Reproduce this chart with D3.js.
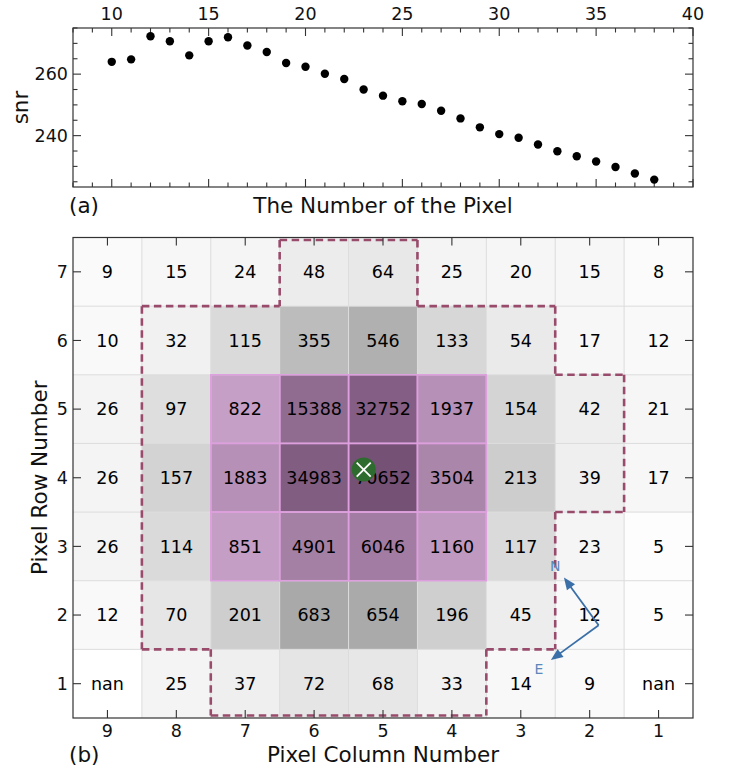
<!DOCTYPE html>
<html>
<head>
<meta charset="utf-8">
<script src="https://cdn.jsdelivr.net/npm/d3@7"></script>
<style>
  html, body { margin: 0; padding: 0; background: #fff; }
  svg { display: block; font-family: "DejaVu Sans", sans-serif; }
</style>
</head>
<body>
<svg id="chart" width="729" height="773"></svg>
<script>
// ---------- Panel (a) data ----------
const pixelNumbers = [10,11,12,13,14,15,16,17,18,19,20,21,22,23,24,25,26,27,28,29,30,31,32,33,34,35,36,37,38];
const snrValues = [264.0,264.8,272.3,270.7,266.1,270.7,272.0,269.3,267.2,263.6,262.4,260.1,258.4,255.0,253.0,251.2,250.3,248.1,245.6,242.7,240.5,239.3,237.1,234.9,233.3,231.6,229.8,227.7,225.7];
const snrXTicks = [10,15,20,25,30,35,40];
const snrYTicks = [240,260];

// ---------- Panel (b) data ----------
const columnNumbers = [9,8,7,6,5,4,3,2,1];
const rowNumbers = [7,6,5,4,3,2,1];
const row7 = [9, 15, 24, 48, 64, 25, 20, 15, 8];
const row6 = [10, 32, 115, 355, 546, 133, 54, 17, 12];
const row5 = [26, 97, 822, 15388, 32752, 1937, 154, 42, 21];
const row4 = [26, 157, 1883, 34983, 70652, 3504, 213, 39, 17];
const row3 = [26, 114, 851, 4901, 6046, 1160, 117, 23, 5];
const row2 = [12, 70, 201, 683, 654, 196, 45, 12, 5];
const row1 = [null, 25, 37, 72, 68, 33, 14, 9, null];
const pixelValues = [row7, row6, row5, row4, row3, row2, row1];

// aperture (dashed outline) mask
const apertureMask = [
  [0,0,0,1,1,0,0,0,0],
  [0,1,1,1,1,1,1,0,0],
  [0,1,1,1,1,1,1,1,0],
  [0,1,1,1,1,1,1,1,0],
  [0,1,1,1,1,1,1,0,0],
  [0,1,1,1,1,1,1,0,0],
  [0,0,1,1,1,1,0,0,0]
];
// highlighted (purple) pixels
const highlightMask = [
  [0,0,0,0,0,0,0,0,0],
  [0,0,0,0,0,0,0,0,0],
  [0,0,1,1,1,1,0,0,0],
  [0,0,1,1,1,1,0,0,0],
  [0,0,1,1,1,1,0,0,0],
  [0,0,0,0,0,0,0,0,0],
  [0,0,0,0,0,0,0,0,0]
];
const targetPosition = {column: 5.28, row: 4.12};
const compassOrigin = {column: 1.87, row: 1.85};
const compassRotationDeg = 36;

const svg = d3.select("#chart");
const FONT = 17.5, TITLE = 21.5;

// ================= Panel (a) =================
const A = {l: 73, r: 693, t: 28, b: 187};
const xA = d3.scaleLinear().domain([8, 40]).range([A.l, A.r]);
const yA = d3.scaleLinear().domain([223.3, 275]).range([A.b, A.t]);
const gA = svg.append("g");

const minorX = d3.range(8, 41, 1).filter(v => v % 5 !== 0);
const minorY = d3.range(225, 276, 5).filter(v => v % 20 !== 0);
const majorYAll = [240, 260];

// ticks (inward) on all sides
function tickLines(g, vals, scale, orient, len) {
  vals.forEach(v => {
    const p = scale(v);
    let x1,y1,x2,y2;
    if (orient === "top") { x1 = x2 = p; y1 = A.t; y2 = A.t + len; }
    if (orient === "bottom") { x1 = x2 = p; y1 = A.b; y2 = A.b - len; }
    if (orient === "left") { y1 = y2 = p; x1 = A.l; x2 = A.l + len; }
    if (orient === "right") { y1 = y2 = p; x1 = A.r; x2 = A.r - len; }
    g.append("line").attr("x1",x1).attr("x2",x2).attr("y1",y1).attr("y2",y2)
      .attr("stroke","#333").attr("stroke-width",1.1);
  });
}
tickLines(gA, snrXTicks, xA, "top", 8);
tickLines(gA, snrXTicks, xA, "bottom", 8);
tickLines(gA, minorX, xA, "top", 4.5);
tickLines(gA, minorX, xA, "bottom", 4.5);
tickLines(gA, majorYAll, yA, "left", 8);
tickLines(gA, majorYAll, yA, "right", 8);
tickLines(gA, minorY, yA, "left", 4.5);
tickLines(gA, minorY, yA, "right", 4.5);

gA.selectAll(".xl").data(snrXTicks).enter().append("text")
  .attr("x", d => xA(d)).attr("y", 20).attr("text-anchor","middle")
  .attr("font-size", FONT).attr("fill","#111").text(d => d);
gA.selectAll(".yl").data(snrYTicks).enter().append("text")
  .attr("x", 68).attr("y", d => yA(d)).attr("dy","0.36em").attr("text-anchor","end")
  .attr("font-size", FONT).attr("fill","#111").text(d => d);

gA.selectAll(".dot").data(pixelNumbers).enter().append("circle")
  .attr("cx", d => xA(d)).attr("cy", (d,i) => yA(snrValues[i])).attr("r", 4.2)
  .attr("fill","#000");

gA.append("rect").attr("x",A.l).attr("y",A.t).attr("width",A.r-A.l).attr("height",A.b-A.t)
  .attr("fill","none").attr("stroke","#333").attr("stroke-width",1.2);

gA.append("text").attr("transform","translate(28,107.5) rotate(-90)").attr("text-anchor","middle")
  .attr("font-size", TITLE).attr("fill","#111").text("snr");
gA.append("text").attr("x",(A.l+A.r)/2).attr("y",213).attr("text-anchor","middle")
  .attr("font-size", TITLE).attr("fill","#111").text("The Number of the Pixel");
gA.append("text").attr("x",69).attr("y",213).attr("font-size", TITLE).attr("fill","#111").text("(a)");

// ================= Panel (b) =================
const B = {l: 73, r: 693, t: 237.5, b: 718};
const xB = d3.scaleLinear().domain([9.5, 0.5]).range([B.l, B.r]);
const yB = d3.scaleLinear().domain([7.5, 0.5]).range([B.t, B.b]);
const gB = svg.append("g");

const greyLevel = d3.scaleLog().domain([5, 24, 64, 115, 213, 355, 683]).range([253, 245, 232, 218, 205, 188, 169]).clamp(true);
const purpleColor = d3.scaleLog().domain([822, 70652]).range(["#c59fc5", "#765176"]).interpolate(d3.interpolateRgb).clamp(true);

const cells = [];
pixelValues.forEach((rowArr, ri) => {
  rowArr.forEach((v, ci) => {
    cells.push({row: rowNumbers[ri], col: columnNumbers[ci], v: v,
                ap: apertureMask[ri][ci], hi: highlightMask[ri][ci]});
  });
});

const cw = Math.abs(xB(1) - xB(2)), ch = Math.abs(yB(1) - yB(2));

function fillOf(c) {
  if (c.v === null) return "#ffffff";
  if (c.hi) return purpleColor(c.v);
  const g = Math.round(greyLevel(c.v));
  return d3.rgb(g, g, g).toString();
}

gB.selectAll(".cell").data(cells).enter().append("rect")
  .attr("x", d => xB(d.col + 0.5)).attr("y", d => yB(d.row + 0.5))
  .attr("width", cw).attr("height", ch).attr("fill", fillOf);

// grid lines
const gridX = d3.range(8.5, 0.6, -1);
const gridY = d3.range(6.5, 0.6, -1);
gB.selectAll(".gx").data(gridX).enter().append("line")
  .attr("x1", d => xB(d)).attr("x2", d => xB(d)).attr("y1", B.t).attr("y2", B.b)
  .attr("stroke", "#dcdcdc").attr("stroke-width", 1);
gB.selectAll(".gy").data(gridY).enter().append("line")
  .attr("y1", d => yB(d)).attr("y2", d => yB(d)).attr("x1", B.l).attr("x2", B.r)
  .attr("stroke", "#dcdcdc").attr("stroke-width", 1);

// purple borders
gB.selectAll(".hb").data(cells.filter(c => c.hi)).enter().append("rect")
  .attr("x", d => xB(d.col + 0.5)).attr("y", d => yB(d.row + 0.5))
  .attr("width", cw).attr("height", ch).attr("fill", "none")
  .attr("stroke", "#dd9fdd").attr("stroke-width", 1.5);

// cell labels
gB.selectAll(".cl").data(cells).enter().append("text")
  .attr("x", d => xB(d.col)).attr("y", d => yB(d.row)).attr("dy", "0.36em")
  .attr("text-anchor", "middle").attr("font-size", FONT).attr("fill", "#000")
  .text(d => d.v === null ? "nan" : d.v);

// aperture outline: boundary edges merged
const apSet = new Set(cells.filter(c => c.ap).map(c => c.col + "_" + c.row));
const inAp = (c, r) => apSet.has(c + "_" + r);
const hEdges = {}, vEdges = {};
cells.filter(c => c.ap).forEach(c => {
  if (!inAp(c.col, c.row + 1)) (hEdges[c.row + 0.5] = hEdges[c.row + 0.5] || []).push(c.col);
  if (!inAp(c.col, c.row - 1)) (hEdges[c.row - 0.5] = hEdges[c.row - 0.5] || []).push(c.col);
  if (!inAp(c.col + 1, c.row)) (vEdges[c.col + 0.5] = vEdges[c.col + 0.5] || []).push(c.row);
  if (!inAp(c.col - 1, c.row)) (vEdges[c.col - 0.5] = vEdges[c.col - 0.5] || []).push(c.row);
});
function mergeRuns(arr) {
  arr = arr.slice().sort((a,b) => a - b);
  const runs = []; let s = arr[0], p = arr[0];
  for (let i = 1; i < arr.length; i++) {
    if (arr[i] === p + 1) p = arr[i]; else { runs.push([s,p]); s = p = arr[i]; }
  }
  runs.push([s,p]); return runs;
}
const outline = [];
const inset = 2.5;
Object.keys(hEdges).forEach(k => {
  const rv = +k; let y = yB(rv);
  if (Math.abs(y - B.t) < 1) y += inset; if (Math.abs(y - B.b) < 1) y -= inset;
  mergeRuns(hEdges[k]).forEach(([a,b]) => outline.push({x1: xB(b + 0.5), x2: xB(a - 0.5), y1: y, y2: y}));
});
Object.keys(vEdges).forEach(k => {
  const cv = +k; const x = xB(cv);
  mergeRuns(vEdges[k]).forEach(([a,b]) => {
    let y1 = yB(b + 0.5), y2 = yB(a - 0.5);
    if (Math.abs(y1 - B.t) < 1) y1 += inset; if (Math.abs(y2 - B.b) < 1) y2 -= inset;
    outline.push({x1: x, x2: x, y1: y1, y2: y2});
  });
});
gB.selectAll(".ol").data(outline).enter().append("line")
  .attr("x1", d => d.x1).attr("x2", d => d.x2).attr("y1", d => d.y1).attr("y2", d => d.y2)
  .attr("stroke", "#984b6b").attr("stroke-width", 2.6).attr("stroke-dasharray", "7.5,4.5")
  .attr("stroke-linecap", "butt");

// target marker
const tx = xB(targetPosition.column), ty = yB(targetPosition.row);
gB.append("circle").attr("cx", tx).attr("cy", ty).attr("r", 12).attr("fill", "#2e6b2e");
[[-7,-7,7,7],[-7,7,7,-7]].forEach(s => gB.append("line")
  .attr("x1", tx + s[0]).attr("y1", ty + s[1]).attr("x2", tx + s[2]).attr("y2", ty + s[3])
  .attr("stroke", "#fff").attr("stroke-width", 1.8));

// compass
const ox = xB(compassOrigin.column), oy = yB(compassOrigin.row);
const th = compassRotationDeg * Math.PI / 180, L = 59;
const nDir = [-Math.sin(th), -Math.cos(th)];
const eDir = [-Math.cos(th), Math.sin(th)];
const arrowColor = "#3a6fa7";
function arrow(dir, label) {
  const tipX = ox + dir[0] * L, tipY = oy + dir[1] * L;
  const hl = 12, hw = 5;
  const bx = tipX - dir[0] * hl, by = tipY - dir[1] * hl;
  gB.append("line").attr("x1", ox).attr("y1", oy).attr("x2", bx + dir[0]*2).attr("y2", by + dir[1]*2)
    .attr("stroke", arrowColor).attr("stroke-width", 1.8);
  const px = -dir[1], py = dir[0];
  gB.append("path").attr("d", `M${tipX},${tipY}L${bx + px*hw},${by + py*hw}L${bx - px*hw},${by - py*hw}Z`)
    .attr("fill", arrowColor);
  gB.append("text").attr("x", ox + dir[0] * L * 1.25).attr("y", oy + dir[1] * L * 1.25)
    .attr("dy", "0.36em").attr("text-anchor", "middle").attr("font-size", 14)
    .attr("fill", "#5b88bb").text(label);
}
arrow(nDir, "N");
arrow(eDir, "E");

// ticks (inward) on heatmap
columnNumbers.forEach(c => {
  const x = xB(c);
  gB.append("line").attr("x1", x).attr("x2", x).attr("y1", B.b).attr("y2", B.b - 8).attr("stroke", "#333").attr("stroke-width", 1.1);
  gB.append("line").attr("x1", x).attr("x2", x).attr("y1", B.t).attr("y2", B.t + 8).attr("stroke", "#333").attr("stroke-width", 1.1);
});
rowNumbers.forEach(r => {
  const y = yB(r);
  gB.append("line").attr("x1", B.l).attr("x2", B.l + 8).attr("y1", y).attr("y2", y).attr("stroke", "#333").attr("stroke-width", 1.1);
  gB.append("line").attr("x1", B.r).attr("x2", B.r - 8).attr("y1", y).attr("y2", y).attr("stroke", "#333").attr("stroke-width", 1.1);
});
gB.selectAll(".bxl").data(columnNumbers).enter().append("text")
  .attr("x", d => xB(d)).attr("y", 737).attr("text-anchor", "middle")
  .attr("font-size", FONT).attr("fill", "#111").text(d => d);
gB.selectAll(".byl").data(rowNumbers).enter().append("text")
  .attr("x", 68).attr("y", d => yB(d)).attr("dy", "0.36em").attr("text-anchor", "end")
  .attr("font-size", FONT).attr("fill", "#111").text(d => d);

gB.append("rect").attr("x", B.l).attr("y", B.t).attr("width", B.r - B.l).attr("height", B.b - B.t)
  .attr("fill", "none").attr("stroke", "#333").attr("stroke-width", 1.2);

gB.append("text").attr("transform", `translate(47,${(B.t + B.b) / 2}) rotate(-90)`).attr("text-anchor", "middle")
  .attr("font-size", TITLE).attr("fill", "#111").text("Pixel Row Number");
gB.append("text").attr("x", (B.l + B.r) / 2).attr("y", 762).attr("text-anchor", "middle")
  .attr("font-size", TITLE).attr("fill", "#111").text("Pixel Column Number");
gB.append("text").attr("x", 69).attr("y", 762).attr("font-size", TITLE).attr("fill", "#111").text("(b)");
</script>
</body>
</html>
